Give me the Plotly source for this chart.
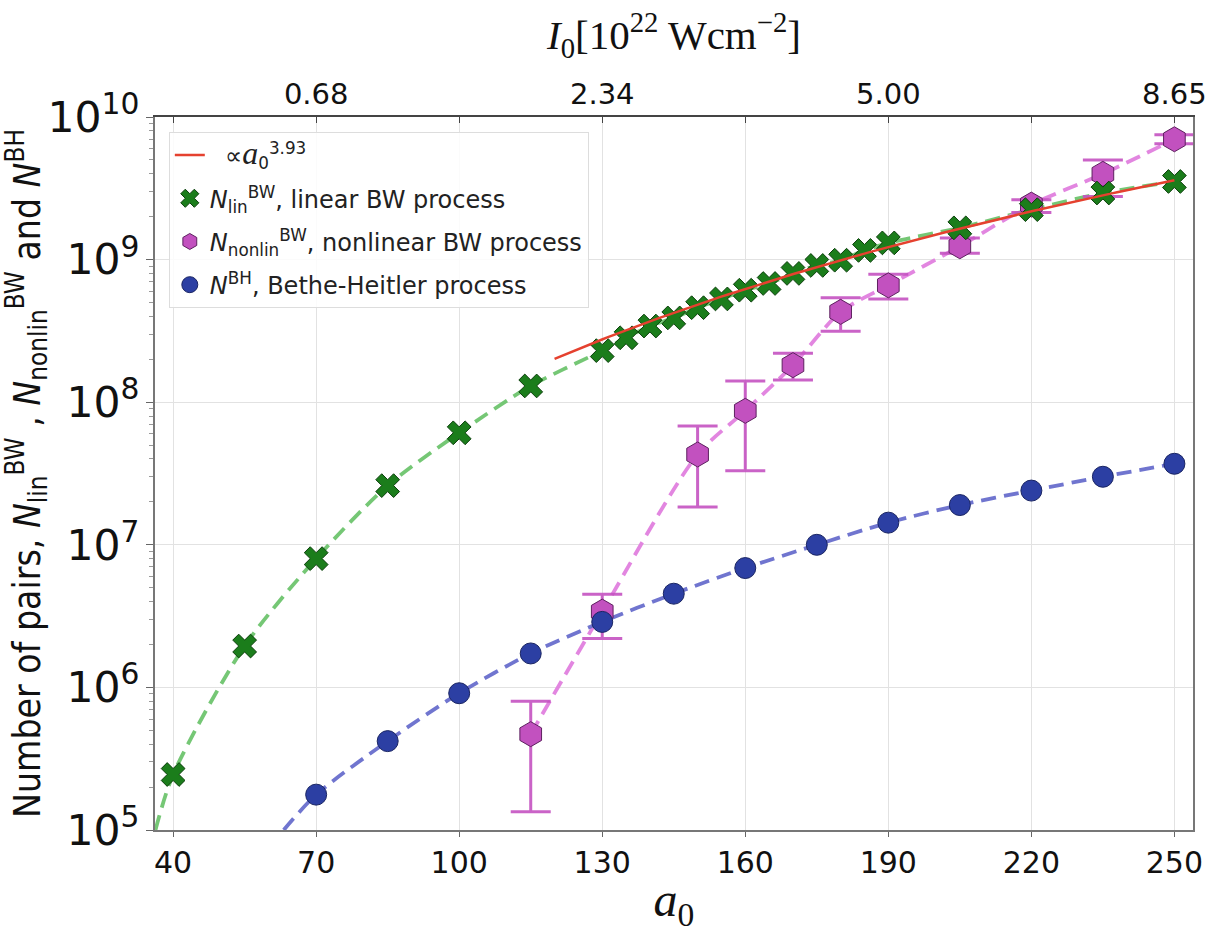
import numpy as np
import plotly.graph_objects as go

# ---- data: pair yields versus laser amplitude a0 ----
a0_lin = [40, 55, 70, 85, 100, 115, 130, 135, 140, 145, 150, 155, 160, 165,
          170, 175, 180, 185, 190, 205, 220, 235, 250]
n_lin = [2.45e5, 1.95e6, 8.0e6, 2.6e7, 6.1e7, 1.3e8, 2.3e8, 2.83e8, 3.42e8,
         3.9e8, 4.6e8, 5.3e8, 6.1e8, 6.8e8, 8.0e8, 9.1e8, 9.9e8, 1.16e9,
         1.31e9, 1.67e9, 2.24e9, 2.93e9, 3.53e9]

a0_nonlin = [115, 130, 150, 160, 170, 180, 190, 205, 220, 235, 250]
n_nonlin = [4.7e5, 3.4e6, 4.3e7, 8.7e7, 1.82e8, 4.3e8, 6.6e8, 1.24e9, 2.43e9,
            3.99e9, 6.98e9]
n_nonlin_hi = [8.0e5, 4.5e6, 6.8e7, 1.41e8, 2.2e8, 5.4e8, 7.9e8, 1.42e9,
               2.63e9, 5.0e9, 7.5e9]
n_nonlin_lo = [1.34e5, 2.2e6, 1.84e7, 3.3e7, 1.43e8, 3.15e8, 5.3e8, 1.11e9,
               2.14e9, 2.77e9, 6.5e9]

a0_bh = [70, 85, 100, 115, 130, 145, 160, 175, 190, 205, 220, 235, 250]
n_bh = [1.77e5, 4.2e5, 9.1e5, 1.73e6, 2.88e6, 4.54e6, 6.87e6, 1.0e7, 1.43e7,
        1.9e7, 2.4e7, 3.0e7, 3.7e7]

# dashed guide curves continue down to the lower frame edge
lin_curve_start = (36.3, 1.0e5)
bh_curve_start = (63.2, 1.0e5)

# power-law scaling shown in the legend
fit_exponent = 3.93
fit_a0_range = (120, 250)
fit_n_at_250 = 3.6e9

# intensity axis labels (top) at a0 = 70, 130, 190, 250
a0_ticks = [40, 70, 100, 130, 160, 190, 220, 250]
intensity_labels = ["", "0.68", "", "2.34", "", "5.00", "", "8.65"]

X_RANGE = [36.2, 253.9]

GREEN = "#1b7d1b"
GREEN_LINE = "rgba(110,196,110,0.95)"
MAGENTA = "#c251bf"
MAGENTA_LINE = "rgba(224,128,222,0.95)"
BLUE = "#2c3fa3"
BLUE_LINE = "rgba(104,110,204,0.95)"
RED = "#e5412f"

DASH = "15px,8px"

fig = go.Figure()

# dashed guide curves
fig.add_trace(go.Scatter(
    x=[lin_curve_start[0]] + a0_lin, y=[lin_curve_start[1]] + n_lin,
    mode="lines", line=dict(color=GREEN_LINE, width=3.8, dash=DASH,
                            shape="spline", smoothing=0.8),
    showlegend=False, hoverinfo="skip"))
fig.add_trace(go.Scatter(
    x=a0_nonlin, y=n_nonlin,
    mode="lines", line=dict(color=MAGENTA_LINE, width=3.8, dash=DASH,
                            shape="spline", smoothing=0.8),
    showlegend=False, hoverinfo="skip"))
fig.add_trace(go.Scatter(
    x=[bh_curve_start[0]] + a0_bh, y=[bh_curve_start[1]] + n_bh,
    mode="lines", line=dict(color=BLUE_LINE, width=3.8, dash=DASH,
                            shape="spline", smoothing=0.8),
    showlegend=False, hoverinfo="skip"))

# nonlinear Breit-Wheeler with error bars
err_plus = [h - v for h, v in zip(n_nonlin_hi, n_nonlin)]
err_minus = [v - l for v, l in zip(n_nonlin, n_nonlin_lo)]
fig.add_trace(go.Scatter(
    x=a0_nonlin, y=n_nonlin, mode="markers",
    name="<i>N</i><sub>nonlin</sub><sup>BW</sup>, nonlinear BW process",
    marker=dict(symbol="hexagon", size=25, color=MAGENTA,
                line=dict(color="#5e2160", width=1)),
    error_y=dict(type="data", array=err_plus, arrayminus=err_minus,
                 color="rgba(196,82,193,0.9)", thickness=3, width=20),
    legendgroup="nonlin", legendrank=3))

# Bethe-Heitler
fig.add_trace(go.Scatter(
    x=a0_bh, y=n_bh, mode="markers",
    name="<i>N</i><sup>BH</sup>, Bethe-Heitler process",
    marker=dict(symbol="circle", size=21, color=BLUE,
                line=dict(color="#1a2563", width=1)),
    legendgroup="bh", legendrank=4))

# linear Breit-Wheeler
fig.add_trace(go.Scatter(
    x=a0_lin, y=n_lin, mode="markers",
    name="<i>N</i><sub>lin</sub><sup>BW</sup>, linear BW process",
    marker=dict(symbol="x", size=21, color=GREEN,
                line=dict(color="#0c3f0c", width=1)),
    legendgroup="lin", legendrank=2))

# power-law scaling line
a_fit = np.linspace(fit_a0_range[0], fit_a0_range[1], 120)
n_fit = fit_n_at_250 * (a_fit / 250.0) ** fit_exponent
fig.add_trace(go.Scatter(
    x=a_fit, y=n_fit, mode="lines",
    name="  \u221d<span style=\"font-family:'Liberation Serif';font-size:32px\"><i>a</i></span>"
         "<sub>0</sub><sup>3.93</sup>",
    line=dict(color=RED, width=2.5), legendgroup="fit", legendrank=1))

# invisible trace that carries the top intensity axis
fig.add_trace(go.Scatter(
    x=a0_ticks, y=[None] * len(a0_ticks), xaxis="x2", mode="markers",
    marker=dict(opacity=0), showlegend=False, hoverinfo="skip"))

TICK_FONT = dict(family="DejaVu Sans", size=30, color="#111111")

fig.update_layout(
    width=1218, height=933,
    margin=dict(l=149, r=16, t=117, b=101),
    paper_bgcolor="white", plot_bgcolor="white",
    xaxis=dict(
        range=X_RANGE, tickvals=a0_ticks, ticks="outside", ticklen=5,
        tickcolor="#666", showgrid=True, gridcolor="#e2e2e2", gridwidth=1,
        showline=True, linecolor="#777", linewidth=1.5, mirror=False,
        zeroline=False, tickfont=TICK_FONT,
        title=dict(text="<i>a</i><sub>0</sub>", standoff=8,
                   font=dict(family="Liberation Serif", size=48, color="#111")),
    ),
    xaxis2=dict(
        overlaying="x", side="top", range=X_RANGE,
        tickvals=a0_ticks, ticktext=intensity_labels,
        ticks="inside", ticklen=6, tickcolor="#444",
        showgrid=False, showline=True, linecolor="#444", linewidth=1.5,
        zeroline=False, tickfont=dict(family="DejaVu Sans", size=29, color="#111"),
        title=dict(text="<i>I</i><sub>0</sub>[10<sup>22</sup> Wcm<sup>\u22122</sup>]",
                   standoff=14,
                   font=dict(family="Liberation Serif", size=41, color="#111")),
    ),
    yaxis=dict(
        type="log", range=[5, 10], dtick=1, exponentformat="power",
        ticks="outside", ticklen=7, tickcolor="#666",
        minor=dict(ticks="outside", ticklen=4, tickcolor="#999", showgrid=False),
        showgrid=True, gridcolor="#e2e2e2", gridwidth=1,
        showline=True, linecolor="#777", linewidth=1.5, mirror=True,
        zeroline=False,
        tickfont=dict(family="DejaVu Sans", size=34, color="#111"),
        title=dict(
            text="Number of pairs, <i>N</i><sub>lin</sub><sup>BW</sup> , "
                 "<i>N</i><sub>nonlin</sub><sup>BW</sup> and <i>N</i><sup>BH</sup>",
            standoff=10,
            font=dict(family="Liberation Sans Narrow, DejaVu Sans Condensed, sans-serif",
                      size=37, color="#111")),
    ),
    legend=dict(
        x=0.0133, y=0.979, xanchor="left", yanchor="top",
        bgcolor="rgba(255,255,255,0.85)", bordercolor="#dddddd", borderwidth=1,
        font=dict(family="DejaVu Sans", size=24, color="#222"),
        traceorder="grouped", tracegroupgap=9,
    ),
    showlegend=True,
)

fig.write_html("out.html")
